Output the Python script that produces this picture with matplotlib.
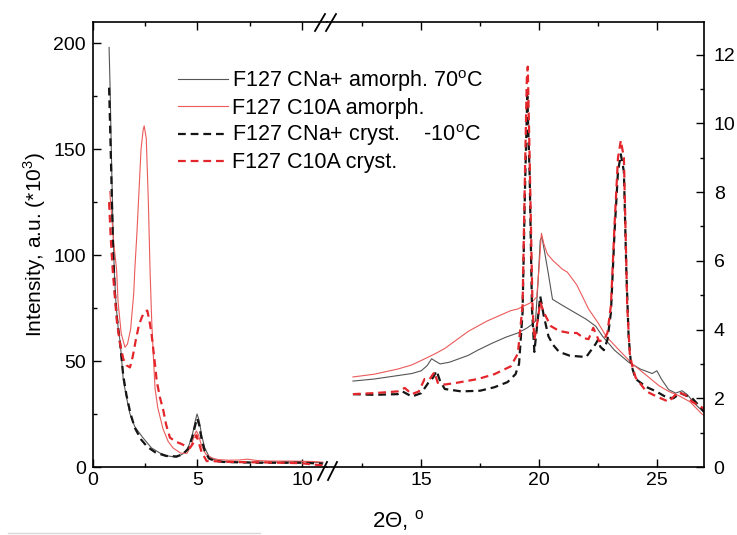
import numpy as np
import matplotlib
matplotlib.use("Agg")
import matplotlib.pyplot as plt
from matplotlib.lines import Line2D
from matplotlib.ticker import MultipleLocator

plt.rcParams['font.family'] = ['Liberation Sans', 'DejaVu Sans']

# ---- data, low angle part (left axis, *10^3) ----
cna_amor_lo_x = [0.77, 0.82, 0.88, 0.95, 1.02, 1.1, 1.2, 1.3, 1.45, 1.6, 1.77, 2.0, 2.4, 2.8, 3.2, 3.6, 4.0,
                 4.3, 4.55, 4.75, 4.9, 4.98, 5.08, 5.2, 5.35, 5.55, 5.8, 6.2, 7.0, 8.0, 9.0, 10.0, 10.5, 11.0]
cna_amor_lo_y = [198, 178, 148, 115, 92, 77, 66, 59, 41, 33, 25, 19, 13.7, 9, 6.6, 5.2, 4.6,
                 6.2, 9, 15, 22, 25, 22, 15, 9, 5, 3.5, 2.6, 2.3, 2.2, 2.3, 2.6, 2.3, 2.0]

c10a_amor_lo_x = [0.8, 0.9, 1.0, 1.13, 1.2, 1.35, 1.53, 1.65, 1.8, 1.95, 2.0, 2.1, 2.2, 2.3, 2.4, 2.45, 2.55,
                  2.65, 2.73, 2.81, 2.9, 2.97, 3.1, 3.35, 3.6, 3.83, 4.2, 4.5, 4.7, 4.85, 4.95, 5.05, 5.2,
                  5.4, 5.7, 6.0, 6.5, 7.0, 7.4, 7.8, 8.5, 9.5, 10.5, 11.0]
c10a_amor_lo_y = [130, 118, 105, 93, 78, 63, 56.5, 58, 65, 82, 93, 110, 130, 150, 159, 161, 155,
                  125, 93, 69, 50, 37, 28, 18, 12, 9, 6.5, 6.5, 10, 15, 17, 15, 10,
                  6, 4.2, 3.5, 3.2, 3.3, 3.7, 3.1, 2.8, 2.8, 2.6, 2.3]

cna_cryst_lo_x = [0.77, 0.82, 0.9, 0.97, 1.05, 1.15, 1.3, 1.45, 1.6, 1.8, 2.0, 2.3, 2.6, 3.0, 3.5, 4.0,
                  4.3, 4.55, 4.75, 4.9, 4.98, 5.08, 5.2, 5.35, 5.55, 5.8, 6.2, 7.0, 8.0, 9.0, 10.0, 10.5, 11.0]
cna_cryst_lo_y = [179, 160, 128, 100, 82, 70, 58, 43, 34, 25, 18.5, 13, 9.5, 6.8, 5.2, 5.0,
                  6, 8.5, 14, 20, 23, 20, 13, 7.5, 4, 3, 2.4, 2.2, 2.0, 2.0, 2.0, 1.8, 1.6]

c10a_cryst_lo_x = [0.77, 0.85, 0.95, 1.05, 1.15, 1.3, 1.45, 1.6, 1.77, 1.9, 2.05, 2.2, 2.35, 2.5, 2.6,
                   2.7, 2.8, 2.95, 3.05, 3.2, 3.37, 3.5, 3.68, 3.95, 4.2, 4.64, 4.85, 4.95, 5.05, 5.2,
                   5.44, 5.7, 6.2, 7.0, 8.0, 9.0, 10.0, 10.5, 11.0]
c10a_cryst_lo_y = [125, 108, 92, 80, 68, 58, 51, 48, 47, 52, 60, 67, 71, 73.5, 73.8,
                   69, 63, 50, 40.6, 33, 26.5, 20, 13.9, 12, 11, 9, 12, 15, 12, 7,
                   2.8, 2.8, 2.5, 2.3, 2.2, 2.0, 1.8, 1.2, 0.8]

# ---- data, wide angle part (right axis, *10^3) ----
cna_amor_hi_x = [12.1, 13.0, 14.0, 14.6, 15.0, 15.25, 15.44, 15.6, 15.8, 16.2, 17.0, 17.4, 18.0, 18.6,
                 19.1, 19.5, 19.7, 19.85, 19.95, 20.05, 20.12, 20.25, 20.4, 20.57, 21.0, 21.5, 22.0,
                 22.4, 22.7, 23.2, 23.8, 24.3, 24.8, 25.0, 25.2, 25.5, 25.8, 26.07, 26.3, 26.6, 26.9, 27.0]
cna_amor_hi_y = [2.5, 2.56, 2.66, 2.72, 2.8, 2.95, 3.15, 3.08, 3.0, 3.05, 3.25, 3.4, 3.6, 3.78,
                 3.9, 4.05, 4.15, 4.25, 5.3, 6.6, 6.7, 6.2, 5.6, 4.88, 4.7, 4.5, 4.3,
                 4.1, 3.8, 3.4, 3.05, 2.85, 2.72, 2.8, 2.55, 2.25, 2.15, 2.22, 2.1, 1.85, 1.65, 1.6]

c10a_amor_hi_x = [12.1, 13.0, 14.0, 14.6, 15.0, 15.3, 15.6, 16.0, 16.5, 17.0, 17.4, 17.8, 18.3, 18.8,
                  19.1, 19.4, 19.7, 19.9, 20.0, 20.1, 20.2, 20.35, 20.6, 21.0, 21.2, 21.6, 22.1, 22.5,
                  22.85, 23.4, 23.96, 24.5, 25.1, 25.5, 25.95, 26.4, 26.9, 27.0]
c10a_amor_hi_y = [2.62, 2.7, 2.85, 2.97, 3.1, 3.2, 3.3, 3.45, 3.7, 3.95, 4.1, 4.25, 4.4, 4.55,
                  4.6, 4.7, 4.8, 4.95, 5.8, 6.8, 6.5, 6.2, 6.0, 5.75, 5.67, 5.3, 4.6, 4.2,
                  3.8, 3.4, 3.0, 2.7, 2.36, 2.2, 2.07, 1.9, 1.55, 1.5]

cna_cryst_hi_x = [12.1, 13.0, 14.0, 14.2, 14.6, 15.0, 15.3, 15.5, 15.65, 15.8, 16.0, 16.7, 17.5, 18.1,
                  18.66, 19.0, 19.15, 19.3, 19.4, 19.5, 19.6, 19.7, 19.8, 19.9, 20.05, 20.2, 20.4, 20.6,
                  20.85, 21.3, 22.0, 22.4, 22.5, 22.6, 22.75, 22.9, 23.05, 23.2, 23.35, 23.47, 23.6,
                  23.7, 23.8, 23.9, 24.1, 24.55, 24.97, 25.4, 25.7, 26.0, 26.5, 26.9, 27.0]
cna_cryst_hi_y = [2.12, 2.1, 2.12, 2.2, 2.05, 2.15, 2.45, 2.6, 2.8, 2.5, 2.27, 2.2, 2.22, 2.32,
                  2.47, 2.7, 3.0, 4.5, 8.0, 10.8, 8.5, 4.6, 3.35, 4.0, 4.97, 4.4, 3.8, 3.55,
                  3.35, 3.24, 3.2, 3.58, 3.7, 3.5, 3.4, 3.7, 4.5, 6.8, 8.6, 9.1, 8.6,
                  5.8, 3.8, 3.0, 2.56, 2.33, 2.2, 2.03, 2.0, 2.15, 2.0, 1.7, 1.6]

c10a_cryst_hi_x = [12.1, 13.0, 14.0, 14.3, 14.6, 14.9, 15.14, 15.35, 15.56, 15.7, 16.0, 16.5, 17.4, 18.1,
                   18.8, 19.1, 19.3, 19.4, 19.48, 19.52, 19.6, 19.72, 19.8, 19.95, 20.05, 20.2, 20.5,
                   20.85, 21.3, 21.6, 21.9, 22.1, 22.3, 22.55, 22.75, 22.9, 23.05, 23.2, 23.35, 23.47,
                   23.6, 23.7, 23.74, 23.85, 23.95, 24.1, 24.55, 25.0, 25.5, 25.9, 26.2, 26.5, 26.8, 27.0]
c10a_cryst_hi_y = [2.12, 2.15, 2.2, 2.3, 2.12, 2.2, 2.56, 2.55, 2.76, 2.45, 2.4, 2.45, 2.56, 2.7,
                   2.93, 3.3, 4.7, 8.5, 11.3, 11.65, 9.0, 4.7, 3.7, 4.3, 4.8, 4.5, 4.1,
                   3.96, 3.9, 3.9, 3.75, 3.72, 4.05, 3.66, 3.7, 3.9, 4.7, 7.0, 9.0, 9.5,
                   9.0, 6.0, 4.7, 3.3, 2.95, 2.6, 2.2, 2.05, 1.9, 2.18, 2.1, 1.9, 1.78, 1.7]

labels = ["F127 CNa+ amorph. 70$^\\mathregular{o}$C",
          "F127 C10A amorph.",
          "F127 CNa+ cryst.    -10$^\\mathregular{o}$C",
          "F127 C10A cryst."]

# styles
sty = [dict(color="#555555", lw=0.8, ls="-"),
       dict(color="#ec5a5a", lw=0.8, ls="-"),
       dict(color="#151515", lw=1.6, ls=(0, (3.5, 2.2))),
       dict(color="#e3262b", lw=1.6, ls=(0, (3.5, 2.2)))]

W, H = 737, 535
fig = plt.figure(figsize=(W / 100, H / 100), dpi=100)
top, bot = 22, 467
split = 327
axL = fig.add_axes([93 / W, 1 - bot / H, (split - 93) / W, (bot - top) / H])
axR = fig.add_axes([split / W, 1 - bot / H, (704 - split) / W, (bot - top) / H])

lo = [(cna_amor_lo_x, cna_amor_lo_y), (c10a_amor_lo_x, c10a_amor_lo_y),
      (cna_cryst_lo_x, cna_cryst_lo_y), (c10a_cryst_lo_x, c10a_cryst_lo_y)]
hi = [(cna_amor_hi_x, cna_amor_hi_y), (c10a_amor_hi_x, c10a_amor_hi_y),
      (cna_cryst_hi_x, cna_cryst_hi_y), (c10a_cryst_hi_x, c10a_cryst_hi_y)]

handles = []
for i in range(4):
    h, = axL.plot(lo[i][0], lo[i][1], **sty[i])
    axR.plot(hi[i][0], hi[i][1], **sty[i])
    handles.append(h)

axL.set_xlim(0, 11.2)
axL.set_ylim(0, 210)
axR.set_xlim(11, 27)
axR.set_ylim(0, 12.95)

for ax in (axL, axR):
    ax.tick_params(which="both", direction="in", labelsize=14, width=1)
    ax.tick_params(which="major", length=6)
    ax.tick_params(which="minor", length=3)
    for s in ax.spines.values():
        s.set_linewidth(1.2)

axL.spines["right"].set_visible(False)
axR.spines["left"].set_visible(False)

axL.xaxis.set_major_locator(MultipleLocator(5))
axL.xaxis.set_minor_locator(MultipleLocator(2.5))
axL.yaxis.set_major_locator(MultipleLocator(50))
axL.yaxis.set_minor_locator(MultipleLocator(25))
axL.tick_params(which="both", top=True, right=False)
axL.tick_params(axis="y", pad=5)

axR.xaxis.set_major_locator(MultipleLocator(5))
axR.xaxis.set_minor_locator(MultipleLocator(2.5))
axR.yaxis.set_major_locator(MultipleLocator(2))
axR.yaxis.set_minor_locator(MultipleLocator(1))
axR.yaxis.tick_right()
axR.tick_params(which="both", top=True, left=False, right=True)
axR.tick_params(axis="y", pad=7)

axL.set_ylabel("Intensity, a.u. (*10$^\\mathregular{3}$)", fontsize=15, labelpad=4)
fig.text(398 / W, 1 - 527 / H, "2\u0398, $^\\mathregular{o}$", ha="center", va="baseline", fontsize=16)

# break marks
for (x0, x1, y0, y1) in [(315, 325, 31, 14), (326, 336, 31, 14), (318, 327, 480, 462), (328, 337, 480, 462)]:
    fig.add_artist(Line2D([x0 / W, x1 / W], [1 - y0 / H, 1 - y1 / H], color="black", lw=1.3))

fig.add_artist(Line2D([8 / W, 260 / W], [1 - 533 / H, 1 - 533 / H], color="#d8d8d8", lw=1))

fig.legend(handles, labels, loc="upper left", bbox_to_anchor=(178 / W, 1 - 68 / H),
           frameon=False, fontsize=15.5, handlelength=2.3, handletextpad=0.2,
           labelspacing=0.18, borderpad=0, borderaxespad=0)

fig.savefig("out.png", dpi=100)
